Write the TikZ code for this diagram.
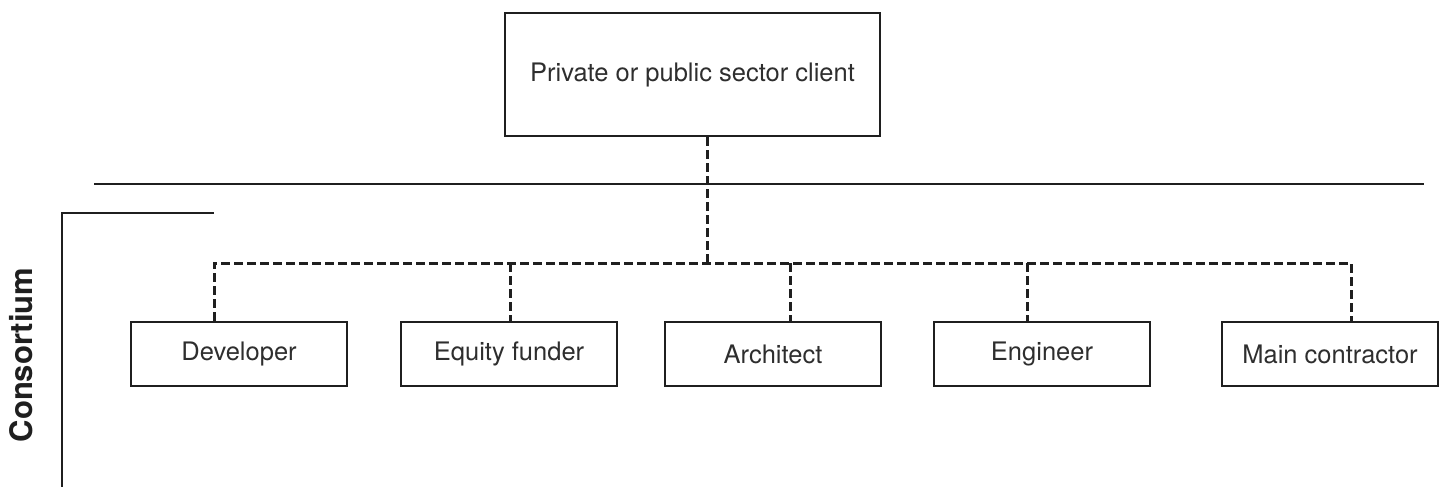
\documentclass[tikz,border=0pt]{standalone}
\usepackage{fontspec}
\setmainfont{TeX Gyre Heros}
\begin{document}
\begin{tikzpicture}[x=1pt,y=-1pt,
  box/.style={draw=black!88, line width=2.6pt, text=black!82, font=\fontsize{25.5}{29}\selectfont, inner sep=0pt},
  topbox/.style={box, minimum width=375pt, minimum height=123pt},
  member/.style={box, minimum width=216pt, minimum height=64pt},
  dashline/.style={draw=black!88, line width=3pt, dash pattern=on 8.5pt off 4.5pt},
  solidline/.style={draw=black!88, line width=2.6pt}]
\useasboundingbox (0,0) rectangle (1444,487);
\node[topbox] (client) at (692.5,74.5) {Private or public sector client};
\node[member] (dev) at (239,354) {Developer};
\node[member] (eq) at (509,354) {Equity funder};
\node[member] (arch) at (773,354) {Architect};
\node[member] (eng) at (1042,354) {Engineer};
\node[member] (main) at (1330,354) {Main contractor};
\coordinate (j) at (707,263);
\coordinate (d1) at (214,263);
\coordinate (d2) at (510,263);
\coordinate (d3) at (790,263);
\coordinate (d4) at (1027,263);
\coordinate (d5) at (1351,263);
\coordinate (l1) at (94,184);
\coordinate (l2) at (1424,184);
\coordinate (b0) at (62,487);
\coordinate (b1) at (62,213);
\coordinate (b2) at (214,213);
\draw[solidline] (l1) -- (l2);
\draw[solidline] (b0) -- (b1) -- (b2);
\draw[dashline] (j |- client.south) -- (j);
\draw[dashline] (d1 |- dev.north) -- (d1) -- (d5) -- (d5 |- main.north);
\draw[dashline] (d2) -- (d2 |- eq.north);
\draw[dashline] (d3) -- (d3 |- arch.north);
\draw[dashline] (d4) -- (d4 |- eng.north);
\node[rotate=90, font=\fontsize{31}{34}\bfseries, text=black!88, inner sep=0pt] (cons) at (21,355) {Consortium};
\end{tikzpicture}
\end{document}
